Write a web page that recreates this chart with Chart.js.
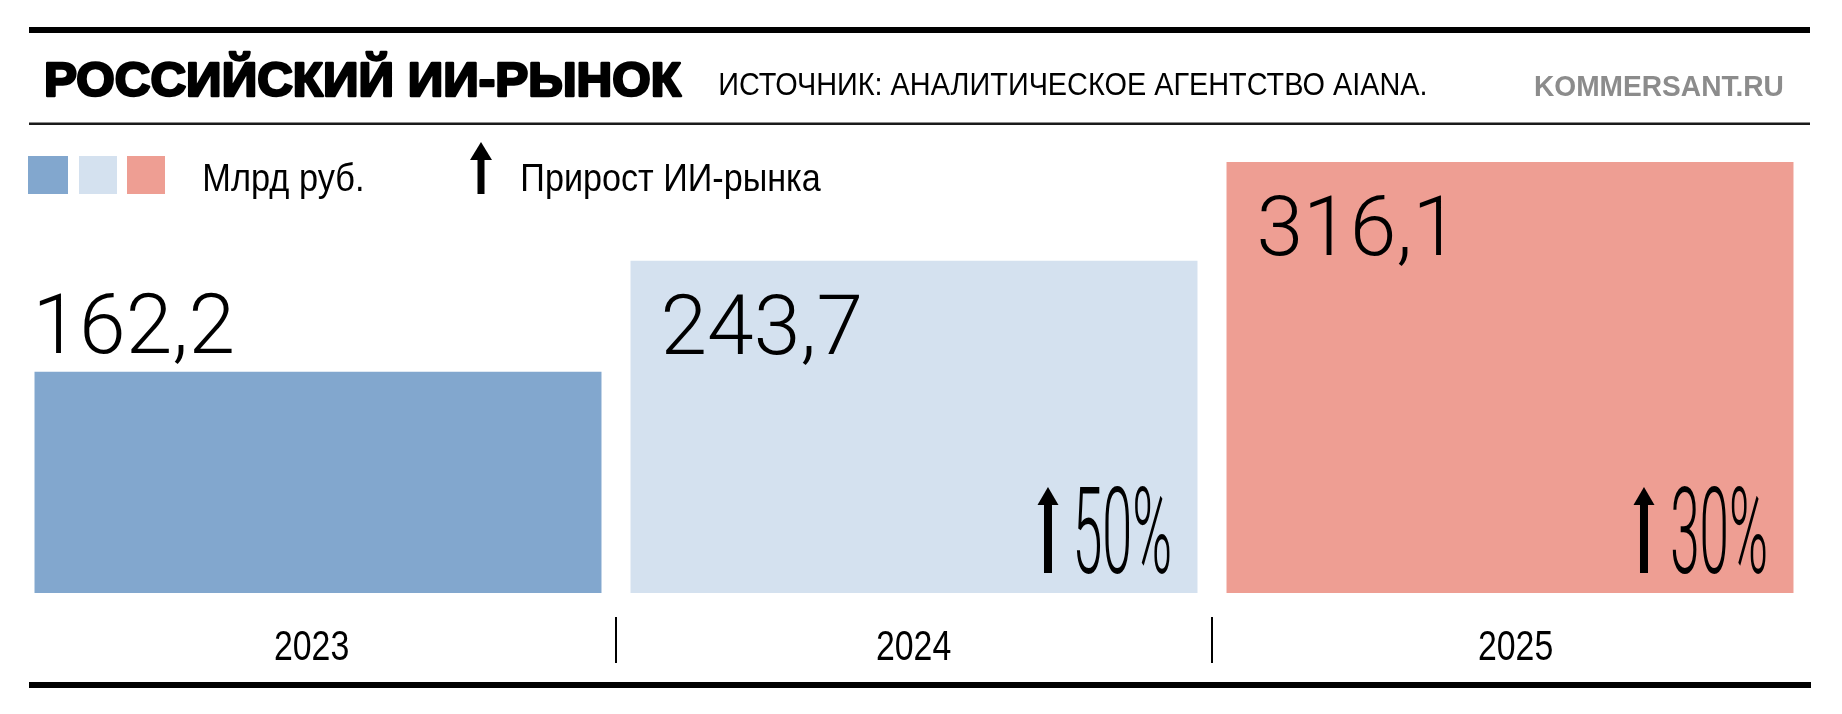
<!DOCTYPE html>
<html><head><meta charset="utf-8">
<script src="https://cdn.jsdelivr.net/npm/chart.js@4.4.1/dist/chart.umd.min.js"></script>
<style>html,body{margin:0;padding:0;background:#fff}#wrap{width:1842px;height:714px;position:relative}</style>
</head><body><div id="wrap"><canvas id="c"></canvas></div>
<script>
const years = ['2023', '2024', '2025'];
const values = [162.2, 243.7, 316.1];
const valueLabels = ['162,2', '243,7', '316,1'];
const growthLabels = ['', '50%', '30%'];
const barColors = ['#82A7CE', '#D4E1EF', '#EE9E93'];
const titleText = 'РОССИЙСКИЙ ИИ-РЫНОК';
const sourceText = 'ИСТОЧНИК: АНАЛИТИЧЕСКОЕ АГЕНТСТВО AIANA.';
const brandText = 'KOMMERSANT.RU';
const unitText = 'Млрд руб.';
const growthLegendText = 'Прирост ИИ-рынка';

const SANS = '"Liberation Sans", Arial, sans-serif';
const LIGHT = 'Roboto, "Liberation Sans", sans-serif';

function fitText(ctx, text, x, baseline, width, font, color, opts) {
  opts = opts || {};
  ctx.save();
  ctx.font = font;
  ctx.textBaseline = 'alphabetic';
  ctx.textAlign = 'left';
  const m = ctx.measureText(text);
  const ink = m.actualBoundingBoxLeft + m.actualBoundingBoxRight;
  const s = width / ink;
  let left = x;
  if (opts.align === 'right') left = x - width;
  if (opts.align === 'center') left = x - width / 2;
  ctx.translate(left, baseline);
  ctx.scale(s, 1);
  ctx.fillStyle = color;
  ctx.fillText(text, m.actualBoundingBoxLeft, 0);
  if (opts.stroke) {
    ctx.strokeStyle = color; ctx.lineWidth = opts.stroke; ctx.lineJoin = 'round';
    ctx.strokeText(text, m.actualBoundingBoxLeft, 0);
  }
  ctx.restore();
}
function plainText(ctx, text, x, baseline, font, color) {
  ctx.save();
  ctx.font = font; ctx.textBaseline = 'alphabetic'; ctx.textAlign = 'left';
  const m = ctx.measureText(text);
  ctx.fillStyle = color;
  ctx.fillText(text, x + m.actualBoundingBoxLeft, baseline);
  ctx.restore();
}
function arrow(ctx, cx, top, bottom, headW, headH, shaftW) {
  ctx.save();
  ctx.fillStyle = '#000';
  ctx.fillRect(cx - shaftW / 2, top + headH * 0.7, shaftW, bottom - top - headH * 0.7);
  ctx.beginPath();
  ctx.moveTo(cx, top);
  ctx.lineTo(cx + headW / 2, top + headH);
  ctx.lineTo(cx - headW / 2, top + headH);
  ctx.closePath();
  ctx.fill();
  ctx.restore();
}

const decor = {
  id: 'decor',
  beforeDraw(chart) {
    const ctx = chart.ctx;
    ctx.save();
    ctx.fillStyle = '#fff';
    ctx.fillRect(0, 0, chart.width, chart.height);
    ctx.fillStyle = '#000';
    ctx.fillRect(29, 27, 1781, 6);
    ctx.fillStyle = '#1a1a1a';
    ctx.fillRect(29, 122.5, 1781, 2.5);
    ctx.restore();
    fitText(ctx, titleText, 47, 96, 634, 'bold 49px ' + SANS, '#000', { stroke: 2.6 });
    fitText(ctx, sourceText, 720, 95, 705, '32px ' + SANS, '#000');
    fitText(ctx, brandText, 1535, 96, 248, 'bold 29px ' + SANS, '#8c8c8c');
    ctx.save();
    const sq = [[28, 40], [79, 38], [127, 38]];
    sq.forEach((s, i) => { ctx.fillStyle = barColors[i]; ctx.fillRect(s[0], 156, s[1], 38); });
    ctx.restore();
    fitText(ctx, unitText, 205, 191, 157, '39px ' + SANS, '#000');
    arrow(ctx, 481, 142, 194, 22, 18, 7);
    fitText(ctx, growthLegendText, 523, 191, 298, '39px ' + SANS, '#000');
  },
  afterDatasetsDraw(chart) {
    const ctx = chart.ctx;
    const meta = chart.getDatasetMeta(0);
    meta.data.forEach((bar, i) => {
      const left = bar.x - bar.width / 2;
      const right = bar.x + bar.width / 2;
      const inside = i > 0;
      const lx = inside ? left + 34 : left + 5;
      const by = inside ? bar.y + 93 : bar.y - 19;
      plainText(ctx, valueLabels[i], lx, by, '300 84px ' + LIGHT, '#000');
      if (growthLabels[i]) {
        const digitsRight = right - 28;
        fitText(ctx, growthLabels[i], digitsRight, bar.base - 20, 93, '300 120px ' + LIGHT, '#000', { align: 'right' });
        arrow(ctx, digitsRight - 93 - 28.5, bar.base - 106, bar.base - 20, 21, 18, 8);
      }
    });
  },
  afterDraw(chart) {
    const ctx = chart.ctx;
    const x = chart.scales.x;
    ctx.save();
    ctx.fillStyle = '#000';
    for (let i = 0; i < years.length - 1; i++) {
      const mid = (x.getPixelForValue(i) + x.getPixelForValue(i + 1)) / 2;
      ctx.fillRect(Math.round(mid) - 1, 617, 2, 46);
    }
    ctx.fillRect(29, 682, 1782, 6);
    ctx.restore();
    // category labels at the axis tick positions (condensed)
    x.ticks.forEach((t, i) => {
      const px = x.getPixelForTick(i);
      fitText(ctx, x.getLabelForValue(t.value), px - 6 + i * 6, 660, 73, '43px ' + SANS, '#000', { align: 'center' });
    });
  }
};

new Chart(document.getElementById('c'), {
  type: 'bar',
  data: {
    labels: years,
    datasets: [{
      data: values,
      backgroundColor: barColors,
      borderWidth: 0,
      categoryPercentage: 1,
      barPercentage: 0.9513
    }]
  },
  options: {
    responsive: true,
    maintainAspectRatio: false,
    animation: false,
    devicePixelRatio: 1,
    layout: { padding: { left: 20, right: 34, top: 162, bottom: 0 } },
    plugins: { legend: { display: false }, tooltip: { enabled: false }, title: { display: false } },
    scales: {
      x: {
        grid: { display: false, drawTicks: false },
        border: { display: false },
        ticks: { display: false },
        afterFit(scale) { scale.height = 121; }
      },
      y: {
        display: false,
        min: 0,
        max: Math.max(...values)
      }
    }
  },
  plugins: [decor]
});
</script>
</body></html>
